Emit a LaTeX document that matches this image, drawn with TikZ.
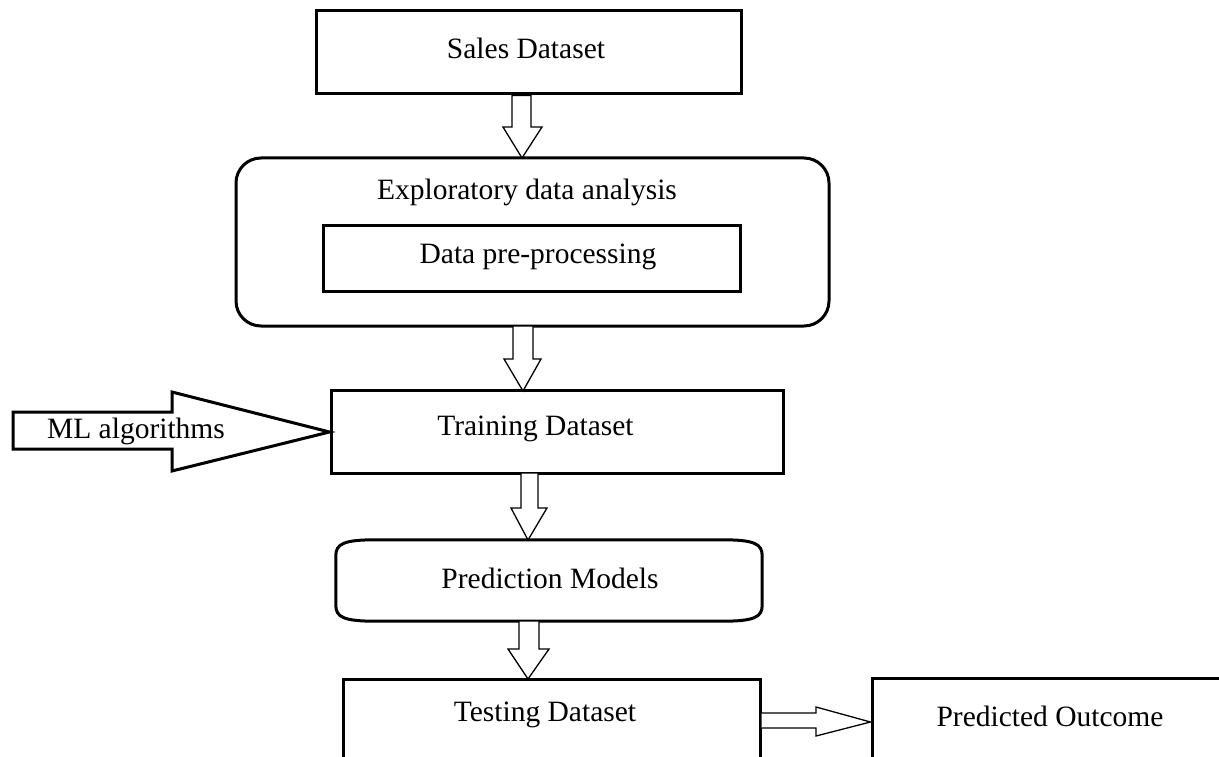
\documentclass[tikz,border=0pt]{standalone}
\usepackage{fontspec}
\setmainfont{Liberation Serif}
\usetikzlibrary{calc}
\begin{document}
\begin{tikzpicture}[x=1pt,y=-1pt,
  box/.style={draw, line width=3pt, inner sep=0pt, anchor=center},
  lbl/.style={inner sep=0pt, anchor=center, font=\fontsize{29.5}{32}\selectfont},
  barrow/.style={draw, line width=1.3pt, fill=white, line join=miter},
  bigarrow/.style={draw, line width=3pt, fill=white, line join=miter}]
\useasboundingbox (0,0) rectangle (1219,757);
\clip (0,0) rectangle (1219,757);
\fill[white] (0,0) rectangle (1219,757);

% boxes
\node[box, minimum width=425pt, minimum height=83pt] (sales) at (528.5,52.5) {};
\node[box, rounded corners=25pt, minimum width=593pt, minimum height=168pt] (eda) at (532.5,242) {};
\node[box, minimum width=417pt, minimum height=66pt] (pre) at (531.5,258) {};
\node[box, minimum width=452pt, minimum height=83pt] (train) at (557,431.5) {};
\node[inner sep=0pt, minimum width=426pt, minimum height=81pt] (pred) at (549,580.5) {};
\draw[line width=3pt]
  ($(pred.north west)+(40,0)$) -- ($(pred.north east)+(-40,0)$)
  .. controls ($(pred.north east)+(-8,0)$) and ($(pred.north east)+(0,4)$) .. ($(pred.north east)+(0,16)$)
  -- ($(pred.south east)+(0,-16)$)
  .. controls ($(pred.south east)+(0,-4)$) and ($(pred.south east)+(-8,0)$) .. ($(pred.south east)+(-40,0)$)
  -- ($(pred.south west)+(40,0)$)
  .. controls ($(pred.south west)+(8,0)$) and ($(pred.south west)+(0,-4)$) .. ($(pred.south west)+(0,-16)$)
  -- ($(pred.north west)+(0,16)$)
  .. controls ($(pred.north west)+(0,4)$) and ($(pred.north west)+(8,0)$) .. cycle;
\node[box, minimum width=417pt, minimum height=120pt] (test) at (551.5,739) {};
\node[box, minimum width=400pt, minimum height=120pt] (outc) at (1072,738) {};

% labels
\node[lbl] (salest) at (526,48.5) {Sales Dataset};
\node[lbl] (edat) at (527,192.5) {Exploratory data analysis};
\node[lbl] (pret) at (538,256.5) {Data pre-processing};
\node[lbl] (traint) at (535.5,428.5) {Training Dataset};
\node[lbl] (predt) at (550,578.5) {Prediction Models};
\node[lbl] (testt) at (545,714.5) {Testing Dataset};
\node[lbl] (outct) at (1050,716.5) {Predicted Outcome};

% block arrows (down)
\draw[barrow] ($(sales.south)+(-16.5,0)$) -- ($(sales.south)+(2.5,0)$) -- (531,127) -- (542,127)
  -- (522,158) -- (503,127) -- (512,127) -- cycle;
\draw[barrow] (513,326) -- (533,326) -- (533,359) -- (541,359) -- (523,391) -- (504,359) -- (513,359) -- cycle;
\draw[barrow] (521,473) -- (538,473) -- (538,508) -- (547,508) -- (528,540) -- (511,508) -- (521,508) -- cycle;
\draw[barrow] (519,621) -- (539,621) -- (539,649) -- (549,649) -- (528,679) -- (508,649) -- (519,649) -- cycle;
% right arrow test -> outcome
\draw[barrow] ($(test.east |- 0,713)$) -- (816,713) -- (816,707) -- ($(outc.west |- 0,722)$)
  -- (816,736) -- (816,728) -- ($(test.east |- 0,728)$);
% ML algorithms arrow
\draw[bigarrow] (13,412) -- (172,412) -- (172,392) -- ($(train.west |- 0,432)$) -- (172,471) -- (172,449) -- (13,449) -- cycle;
\node[lbl] (mlt) at (136,431.5) {ML algorithms};
\end{tikzpicture}
\end{document}
